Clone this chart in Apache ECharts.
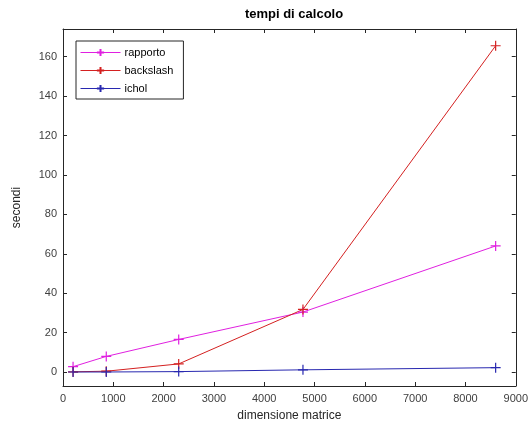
<!DOCTYPE html>
<html>
<head>
<meta charset="utf-8">
<script src="https://cdn.jsdelivr.net/npm/echarts@6/dist/echarts.min.js"></script>
<style>
  html, body { margin: 0; padding: 0; background: #fff; }
  #chart { width: 531px; height: 432px; }
</style>
</head>
<body>
<div id="chart"></div>
<script>
// dimensione matrice (x)
var dimensioni = [200, 860, 2300, 4770, 8600];
// tempi in secondi
var rapporto = [2.8, 8, 16.6, 30.5, 64];
var backslash = [0.2, 0.5, 4.2, 31.8, 165.5];
var ichol = [0.1, 0.1, 0.3, 1.2, 2.3];
var xTicks = [0, 1000, 2000, 3000, 4000, 5000, 6000, 7000, 8000, 9000];
var yTicks = [0, 20, 40, 60, 80, 100, 120, 140, 160];

var plusSymbol = 'path://M0,5L10,5M5,0L5,10';
var font = 'Liberation Sans, Arial, sans-serif';

function pairs(ys) {
    var out = [];
    for (var i = 0; i < dimensioni.length; i++) {
        out.push([dimensioni[i], ys[i]]);
    }
    return out;
}

function makeSeries(name, ys, color) {
    return {
        name: name,
        type: 'line',
        data: pairs(ys),
        symbol: plusSymbol,
        symbolSize: 10,
        showAllSymbol: true,
        lineStyle: { color: color, width: 1 },
        itemStyle: { color: color, borderColor: color, borderWidth: 1.2 },
        emphasis: { disabled: true },
        animation: false
    };
}

function axisLine() {
    return { show: true, onZero: false, lineStyle: { color: '#262626', width: 1 } };
}
function ticks(vals) {
    var t = { inside: true, length: 4, lineStyle: { color: '#262626' } };
    if (vals) t.customValues = vals;
    return t;
}
function plain(v) { return String(v); }

var chart = echarts.init(document.getElementById('chart'));
chart.setOption({
    backgroundColor: '#fff',
    textStyle: { fontFamily: font },
    title: {
        text: 'tempi di calcolo',
        left: 289,
        textAlign: 'center',
        top: 3,
        textStyle: { fontSize: 13, fontWeight: 'bold', color: '#000', fontFamily: font }
    },
    legend: {
        orient: 'vertical',
        left: 76,
        top: 41,
        padding: [6, 10, 5, 4],
        itemGap: 7,
        itemWidth: 40,
        itemHeight: 9,
        borderColor: '#262626',
        borderWidth: 1,
        backgroundColor: '#fff',
        lineStyle: { width: 1 },
        textStyle: { fontSize: 11, color: '#000', fontFamily: font, padding: [0, 0, 0, -1] },
        data: ['rapporto', 'backslash', 'ichol']
    },
    grid: { left: 63, right: 15, top: 29, bottom: 46 },
    xAxis: [{
        type: 'value',
        min: 0,
        max: 9000,
        interval: 1000,
        name: 'dimensione matrice',
        nameLocation: 'middle',
        nameGap: 24,
        nameTextStyle: { fontSize: 12, color: '#262626' },
        axisLine: axisLine(),
        axisTick: ticks(),
        axisLabel: { fontSize: 11, color: '#404040', margin: 7, formatter: plain },
        splitLine: { show: false }
    }, {
        type: 'value',
        position: 'top',
        min: 0,
        max: 9000,
        interval: 1000,
        axisLine: axisLine(),
        axisTick: ticks(),
        axisLabel: { show: false },
        splitLine: { show: false }
    }],
    yAxis: [{
        type: 'value',
        min: -7,
        max: 174,
        name: 'secondi',
        nameLocation: 'middle',
        nameGap: 40,
        nameRotate: 90,
        nameTextStyle: { fontSize: 12, color: '#262626' },
        axisLine: axisLine(),
        axisTick: ticks(yTicks),
        axisLabel: { fontSize: 11, color: '#404040', margin: 6, customValues: yTicks, formatter: plain },
        splitLine: { show: false }
    }, {
        type: 'value',
        position: 'right',
        min: -7,
        max: 174,
        axisLine: axisLine(),
        axisTick: ticks(yTicks),
        axisLabel: { show: false, customValues: yTicks },
        splitLine: { show: false }
    }],
    series: [
        makeSeries('rapporto', rapporto, '#e020e0'),
        makeSeries('backslash', backslash, '#d42020'),
        makeSeries('ichol', ichol, '#2828b0')
    ]
});
</script>
</body>
</html>
